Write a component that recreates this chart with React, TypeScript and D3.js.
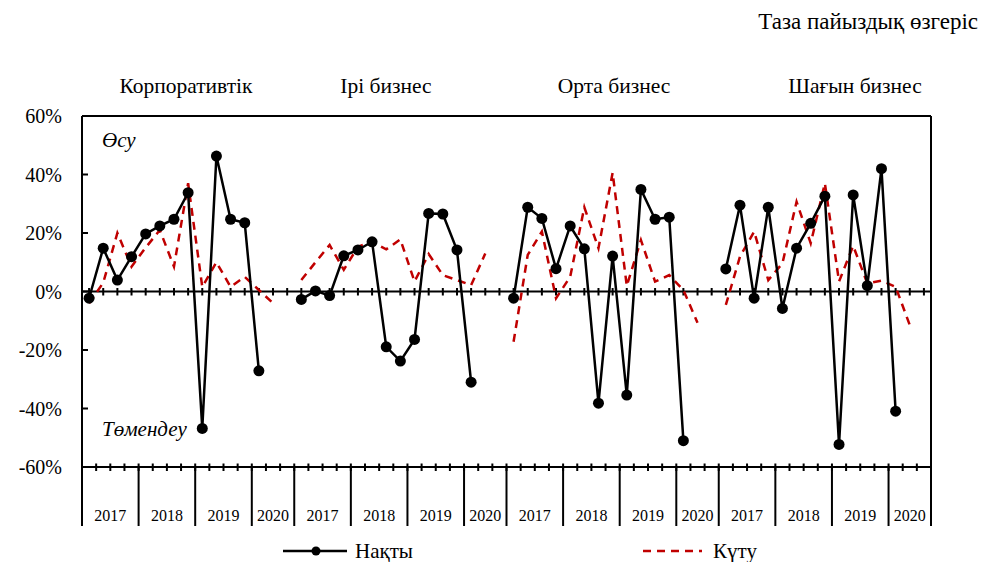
import React from 'react';
import * as d3 from 'd3';

// quarterly values per segment, % change (2017Q1 .. 2020Q2)
const panels = ['Корпоративтік', 'Ірі бизнес', 'Орта бизнес', 'Шағын бизнес'];
const panelTitleX = [186, 386, 614, 855];

const actual: number[][] = [
    [-2.3, 14.8, 3.9, 11.9, 19.7, 22.4, 24.7, 33.8, -46.8, 46.3, 24.7, 23.5, -27.1],
    [-2.7, 0.2, -1.4, 12.2, 14.2, 17, -18.9, -23.8, -16.4, 26.7, 26.5, 14.2, -31],
    [-2.3, 28.8, 25, 7.8, 22.4, 14.6, -38.2, 12.1, -35.4, 34.9, 24.7, 25.4, -51],
    [7.7, 29.5, -2.3, 28.8, -5.8, 14.8, 23.3, 32.6, -52.3, 33, 2, 42, -40.9],
];

const expected: number[][] = [
    [-4, 3, 20, 8.5, 15, 21, 8.5, 37, 1.6, 10, 1.6, 5, 0.5, -4],
    [3.9, 10, 15.9, 7.4, 15.3, 17, 14.4, 17.8, 3.4, 12.8, 5.6, 3.9, 2.2, 13],
    [-17.2, 12.5, 20.5, -2.3, 5, 28.8, 14.8, 40.6, 1.9, 17.6, 3.4, 5.6, 0.5, -10.7],
    [-4.6, 11.9, 20.5, 3.9, 9.6, 30.7, 16.5, 37, 3.4, 15.6, 2.8, 3.7, 1.6, -11.5],
];

const years = ['2017', '2018', '2019', '2020'];
const yearSlots = [4, 4, 4, 3];
const yTicks = [60, 40, 20, 0, -20, -40, -60];

const SLOTS = 15; // slots per panel
const font = 'Liberation Serif';

const App: React.FC = () => {
    const width = 984;
    const height = 562;
    const left = 82, right = 931, top = 116, bottom = 467, axisBottom = 526;

    const x = d3.scaleLinear().domain([0, SLOTS * panels.length]).range([left, right]);
    const y = d3.scaleLinear().domain([-60, 60]).range([bottom, top]);

    const line = d3.line<[number, number]>()
        .x(d => x(d[0]))
        .y(d => y(d[1]));

    const pts = (vals: number[], p: number): [number, number][] =>
        vals.map((v, i) => [p * SLOTS + i + 0.5, v]);

    // year boundaries along the bottom axis
    const boundaries: number[] = [];
    const yearCenters: { label: string; pos: number }[] = [];
    panels.forEach((_, p) => {
        let s = p * SLOTS;
        years.forEach((yr, j) => {
            boundaries.push(s);
            yearCenters.push({ label: yr, pos: s + yearSlots[j] / 2 });
            s += yearSlots[j];
        });
    });
    boundaries.push(SLOTS * panels.length);

    const slotIdx = d3.range(SLOTS * panels.length);

    return (
        <svg width={width} height={height} style={{ position: 'absolute', left: 0, top: 0 }}>
            <rect width={width} height={height} fill="#fff" />

            <text fontFamily={font} x={978} y={29} textAnchor="end" fontSize={23}>Таза пайыздық өзгеріс</text>
            {panels.map((t, i) => (
                <text fontFamily={font} key={t} x={panelTitleX[i]} y={93} textAnchor="middle" fontSize={21.5}>{t}</text>
            ))}

            {/* plot box */}
            <line x1={left} x2={right} y1={top} y2={top} stroke="#000" strokeWidth={2} />
            <line x1={right} x2={right} y1={top} y2={axisBottom} stroke="#000" strokeWidth={2} />
            <line x1={left} x2={left} y1={top} y2={axisBottom} stroke="#000" strokeWidth={2} />

            {/* y axis */}
            {yTicks.map(t => (
                <g key={t}>
                    <line x1={left} x2={left + 6} y1={y(t)} y2={y(t)} stroke="#000" strokeWidth={2} />
                    <text fontFamily={font} x={62} y={y(t) + 7} textAnchor="end" fontSize={20}>{`${t}%`}</text>
                </g>
            ))}

            {/* zero line with ticks at each quarter */}
            <line x1={left} x2={right} y1={y(0)} y2={y(0)} stroke="#000" strokeWidth={2} />
            {slotIdx.map(i => (
                <line key={'z' + i} x1={x(i + 0.5)} x2={x(i + 0.5)} y1={y(0) - 3.5} y2={y(0) + 4}
                    stroke="#000" strokeWidth={2} />
            ))}

            {/* bottom category axis */}
            <line x1={left} x2={right} y1={bottom} y2={bottom} stroke="#000" strokeWidth={2} />
            {slotIdx.map(i => (
                <line key={'b' + i} x1={x(i)} x2={x(i)} y1={bottom - 3.5} y2={bottom + 4}
                    stroke="#000" strokeWidth={2} />
            ))}
            {boundaries.map((b, i) => (
                <line key={'d' + i} x1={x(b)} x2={x(b)} y1={bottom} y2={axisBottom}
                    stroke="#000" strokeWidth={2} />
            ))}
            {yearCenters.map((c, i) => (
                <text fontFamily={font} key={'y' + i} x={x(c.pos)} y={521} textAnchor="middle" fontSize={16}>{c.label}</text>
            ))}

            <text fontFamily={font} x={102} y={147} fontSize={21} fontStyle="italic">Өсу</text>
            <text fontFamily={font} x={102} y={436} fontSize={21} fontStyle="italic">Төмендеу</text>

            {/* expected */}
            {expected.map((vals, p) => (
                <path key={'e' + p} d={line(pts(vals, p)) ?? ''} fill="none" stroke="#C00000"
                    strokeWidth={2.5} strokeDasharray="8,6" />
            ))}

            {/* actual */}
            {actual.map((vals, p) => (
                <g key={'a' + p}>
                    <path d={line(pts(vals, p)) ?? ''} fill="none" stroke="#000" strokeWidth={2.5} />
                    {pts(vals, p).map((d, i) => (
                        <circle key={i} cx={x(d[0])} cy={y(d[1])} r={5.5} fill="#000" />
                    ))}
                </g>
            ))}

            {/* legend */}
            <line x1={283} x2={347} y1={551} y2={551} stroke="#000" strokeWidth={2.5} />
            <circle cx={316} cy={551} r={4.5} fill="#000" />
            <text fontFamily={font} x={355} y={558} fontSize={21}>Нақты</text>
            <line x1={643} x2={702} y1={551} y2={551} stroke="#C00000" strokeWidth={2.5}
                strokeDasharray="8,6" />
            <text fontFamily={font} x={713} y={558} fontSize={21}>Күту</text>
        </svg>
    );
};

export default App;
